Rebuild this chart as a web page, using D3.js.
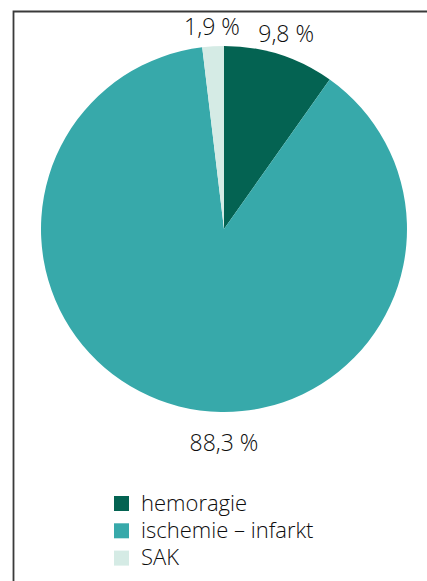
<!DOCTYPE html>
<html>
<head>
<meta charset="utf-8">
<script src="https://cdn.jsdelivr.net/npm/d3@7"></script>
<style>
  body { margin: 0; background: #fff; }
  text { font-family: "Open Sans", sans-serif; font-weight: 300; fill: #0d0d0d; }
</style>
</head>
<body>
<div id="pie-chart"><svg></svg></div>
<script>
// data
var categories = ["hemoragie", "ischemie \u2013 infarkt", "SAK"];
var values = [9.8, 88.3, 1.9];
var valueLabels = ["9,8 %", "88,3 %", "1,9 %"];
var colors = ["#046352", "#37a9aa", "#d5ebe5"];

var width = 427, height = 581;
var cx = 224, cy = 229, radius = 183;

var svg = d3.select("#pie-chart").select("svg")
    .attr("width", width)
    .attr("height", height);

// frame (open on the right and bottom, as in the source)
svg.append("path")
    .attr("d", "M13.5," + height + "V11.5H" + width)
    .attr("fill", "none")
    .attr("stroke", "#3a3a3a")
    .attr("stroke-width", 1.8);

var data = categories.map(function (c, i) {
    return {name: c, value: values[i], label: valueLabels[i], color: colors[i]};
});

var pie = d3.pie()
    .sort(null)
    .value(function (d) { return d.value; });

var arc = d3.arc()
    .innerRadius(0)
    .outerRadius(radius);

var arcs = pie(data);

var g = svg.append("g")
    .attr("transform", "translate(" + cx + "," + cy + ")");

g.selectAll("path")
    .data(arcs)
    .enter().append("path")
    .attr("d", arc)
    .attr("fill", function (d) { return d.data.color; });

// value labels outside the pie
var labelRadius = 205;
g.selectAll("text.value")
    .data(arcs)
    .enter().append("text")
    .attr("class", "value")
    .attr("text-anchor", "middle")
    .attr("font-size", 23)
    .attr("dy", "0.35em")
    .attr("transform", function (d) {
        var a = (d.startAngle + d.endAngle) / 2;
        var r = labelRadius;
        // big slice: label sits straight below the pie
        if (d.startAngle < Math.PI && d.endAngle > Math.PI) { a = Math.PI; r = 214; }
        if (d.data.value < 5) r = 202;
        return "translate(" + (Math.sin(a) * r) + "," + (-Math.cos(a) * r) + ")";
    })
    .text(function (d) { return d.data.label; });

// legend
var legend = svg.append("g")
    .attr("transform", "translate(114,496)");

var row = legend.selectAll("g")
    .data(data)
    .enter().append("g")
    .attr("transform", function (d, i) { return "translate(0," + (i * 27.3) + ")"; });

row.append("rect")
    .attr("width", 15)
    .attr("height", 15)
    .attr("fill", function (d) { return d.color; });

row.append("text")
    .attr("x", 27)
    .attr("y", 14.5)
    .attr("font-size", 22)
    .text(function (d) { return d.name; });
</script>
</body>
</html>
